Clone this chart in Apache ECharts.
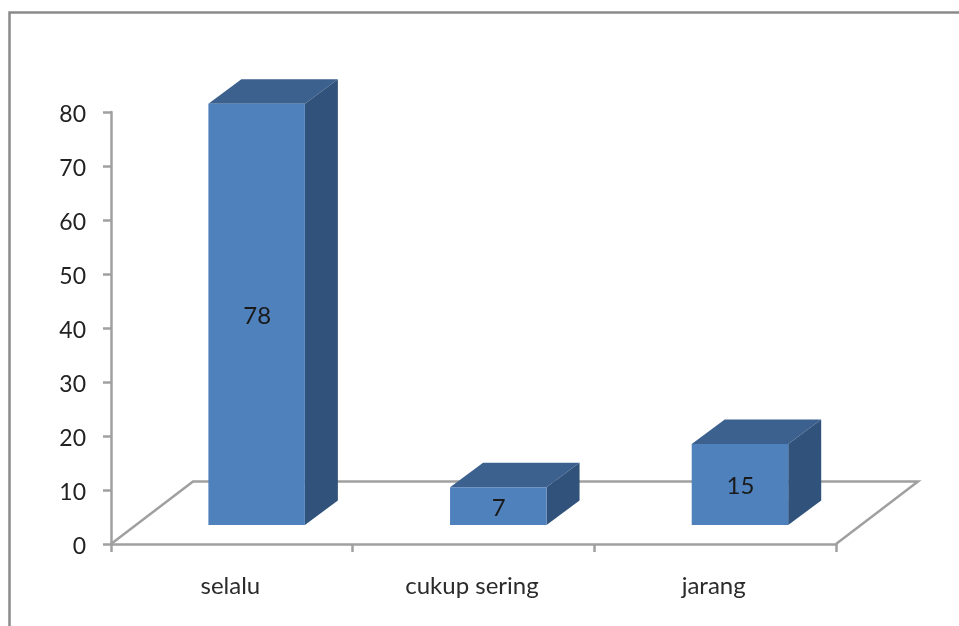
<!DOCTYPE html>
<html><head><meta charset="utf-8">
<style>html,body{margin:0;padding:0;background:#fff}#c{width:959px;height:626px;filter:blur(0.5px)}</style>
<script src="https://cdn.jsdelivr.net/npm/echarts@6/dist/echarts.min.js"></script>
</head><body><div id="c"></div>
<script>
const categories = ['selalu', 'cukup sering', 'jarang'];
const values = [78, 7, 15];
const yTicks = { min: 0, max: 80, interval: 10 };

const FONT = 'Lato';
const AXIS = '#a0a0a0';
const FACE = '#4f81bd', TOP = '#3d618f', SIDE = '#31537b';
const BAR_W = 96.5, OFF_X = 24.8, OFF_Y = -19, DX = 33, DY = -24.5;
const FLOOR_DX = 82, FLOOR_DY = -62.5;

const chart = echarts.init(document.getElementById('c'), null, { renderer: 'canvas' });

function poly(points, fill) {
  return { type: 'polygon', shape: { points }, style: { fill, stroke: null } };
}

chart.setOption({
  animation: false,
  backgroundColor: '#fff',
  grid: { left: 111, top: 112, right: 123, bottom: 82, containLabel: false },
  xAxis: {
    type: 'category', data: categories, boundaryGap: true,
    axisLine: { show: true, lineStyle: { color: AXIS, width: 2.5 } },
    axisTick: { show: true, length: 8, alignWithLabel: false, lineStyle: { color: AXIS, width: 2.5 } },
    axisLabel: { color: '#2b2b2b', fontFamily: FONT, fontSize: 24, margin: 30, padding: [0, 3, 0, 0] },
    splitLine: { show: false }
  },
  yAxis: {
    type: 'value', min: yTicks.min, max: yTicks.max, interval: yTicks.interval,
    axisLine: { show: true, lineStyle: { color: AXIS, width: 2.5 } },
    axisTick: { show: true, length: 8, lineStyle: { color: AXIS, width: 2.5 } },
    axisLabel: { color: '#222', fontFamily: FONT, fontSize: 23, margin: 25, verticalAlign: 'top', lineHeight: 6 },
    splitLine: { show: false }
  },
  graphic: [{
    type: 'polyline', silent: true, z: 0,
    shape: { points: [[9.5, 626], [9.5, 12.5], [959, 12.5]] },
    style: { stroke: '#8a8a8a', lineWidth: 2.5, fill: null }
  }],
  series: [
    {
      type: 'custom', z: 1, silent: true, clip: false,
      data: [0],
      renderItem(params) {
        const w = params.coordSys.width, x0 = params.coordSys.x, y0 = params.coordSys.y + params.coordSys.height;
        return {
          type: 'polyline',
          shape: { points: [[x0, y0], [x0 + FLOOR_DX, y0 + FLOOR_DY], [x0 + w + FLOOR_DX, y0 + FLOOR_DY], [x0 + w, y0]] },
          style: { stroke: AXIS, lineWidth: 2.5, fill: null }
        };
      }
    },
    {
      type: 'custom', z: 2, silent: true, clip: false,
      data: values.map((v, i) => [i, v]),
      encode: { x: 0, y: 1 },
      renderItem(params, api) {
        const p = api.coord([api.value(0), api.value(1)]);
        const base = api.coord([api.value(0), 0]);
        const l = p[0] + OFF_X - BAR_W / 2, r = l + BAR_W;
        const t = p[1] + OFF_Y, b = base[1] + OFF_Y;
        return {
          type: 'group',
          children: [
            poly([[l, t], [r, t], [r + DX, t + DY], [l + DX, t + DY]], TOP),
            poly([[r, t], [r + DX, t + DY], [r + DX, b + DY], [r, b]], SIDE),
            { type: 'rect', shape: { x: l, y: t, width: BAR_W, height: b - t }, style: { fill: FACE, stroke: null } },
            { type: 'text', style: { text: String(api.value(1)), x: (l + r) / 2 + 0.5, y: (t + b) / 2 + 2,
              align: 'center', verticalAlign: 'middle', fill: '#1a1a1a', font: '24px ' + FONT } }
          ]
        };
      }
    }
  ]
});
</script></body></html>
